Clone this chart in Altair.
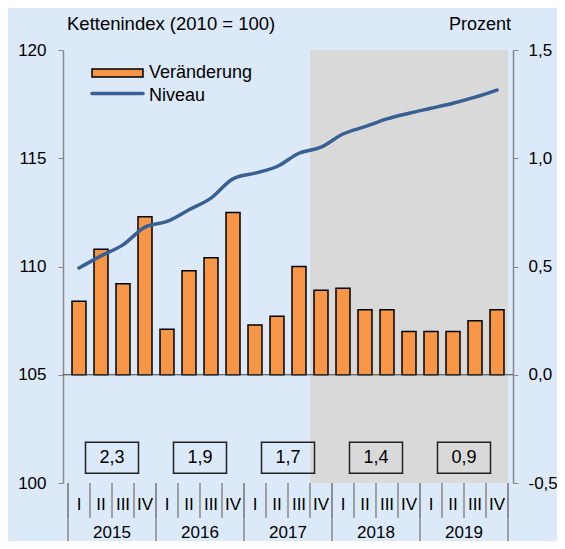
import altair as alt
import pandas as pd

# ---- data -------------------------------------------------------------
years = ["2015", "2016", "2017", "2018", "2019"]
quarters = ["I", "II", "III", "IV"]
veraenderung = [0.34, 0.58, 0.42, 0.73,
                0.21, 0.48, 0.54, 0.75,
                0.23, 0.27, 0.50, 0.39,
                0.40, 0.30, 0.30, 0.20,
                0.20, 0.20, 0.25, 0.30]
niveau = [109.93, 110.49, 111.00, 111.82,
          112.08, 112.62, 113.16, 114.05,
          114.31, 114.62, 115.23, 115.51,
          116.12, 116.46, 116.82, 117.08,
          117.31, 117.54, 117.82, 118.15]
jahresraten = ["2,3", "1,9", "1,7", "1,4", "0,9"]
prognose_ab = "2017 IV"  # shaded projection period starts here
box_level = 101.17       # vertical placement of the annual-rate boxes (left scale)

# ---- derived tables ---------------------------------------------------
rows = []
for yi, y in enumerate(years):
    for qi, q in enumerate(quarters):
        i = yi * 4 + qi
        rows.append({"idx": i, "pos": i + 0.5, "quarter": q, "year": y,
                     "label": f"{y} {q}",
                     "veraenderung": veraenderung[i], "niveau": niveau[i]})
df = pd.DataFrame(rows)

ydf = pd.DataFrame({"year": years,
                    "pos": [i * 4 + 2 for i in range(len(years))],
                    "rate": jahresraten,
                    "level": [box_level] * len(years)})

start = int(df.loc[df["label"] == prognose_ab, "idx"].iloc[0])
shade_df = pd.DataFrame({"x0": [start], "x1": [len(df)], "y0": [-0.5], "y1": [1.5]})
qsep = pd.DataFrame({"b": list(range(len(df) + 1))})
ysep = pd.DataFrame({"b": list(range(0, len(df) + 1, 4))})

# ---- style ------------------------------------------------------------
W, H = 450, 433
BG = "#DCE9F8"
ORANGE = "#F79646"
BLUE = "#386094"
GREY = "#888888"
FONT = "Liberation Sans"

xs = alt.Scale(domain=[0, 20], nice=False, zero=False)
yR = alt.Scale(domain=[-0.5, 1.5], nice=False, zero=False)
yL = alt.Scale(domain=[100, 120], nice=False, zero=False)

base = alt.Chart(df)

right_axis = alt.Axis(orient="right", values=[-0.5, 0, 0.5, 1.0, 1.5],
                      labelExpr="replace(replace(format(datum.value,'.1f'),'.',','),'\u2212','-')",
                      domainColor=GREY, tickColor=GREY, tickSize=5, labelPadding=10,
                      labelFontSize=17, labelColor="black", labelFont=FONT,
                      grid=False, title=None, domainWidth=1.5)
left_axis = alt.Axis(orient="left", values=[100, 105, 110, 115, 120],
                     domainColor=GREY, tickColor=GREY, tickSize=5, labelPadding=12,
                     labelFontSize=17, labelColor="black", labelFont=FONT,
                     grid=False, title=None, domainWidth=1.5)
x_axis = alt.Axis(values=list(range(21)), labels=False, tickSize=35, tickColor=GREY,
                  domainColor=GREY, tickWidth=1.5, domainWidth=1.5, grid=False, title=None)

shade = alt.Chart(shade_df).mark_rect(color="#D9D9D9").encode(
    x=alt.X("x0:Q", scale=xs, axis=x_axis), x2="x1:Q",
    y=alt.Y("y0:Q", scale=yR, axis=right_axis), y2="y1:Q")

bars = base.mark_bar(color=ORANGE, stroke="black", strokeWidth=1.5, size=14,
                     orient="vertical").encode(
    x=alt.X("pos:Q", scale=xs, axis=None),
    y=alt.Y("veraenderung:Q", scale=yR, axis=right_axis),
    y2=alt.datum(0))

zero_rule = alt.Chart(pd.DataFrame({"z": [0]})).mark_rule(color="#404040", strokeWidth=1.2).encode(
    y=alt.Y("z:Q", scale=yR, axis=right_axis),
    x=alt.value(0), x2=alt.value(W))

groupR = alt.layer(shade, bars, zero_rule)

line = base.mark_line(color=BLUE, strokeWidth=3.5, interpolate="monotone", strokeCap="round").encode(
    x=alt.X("pos:Q", scale=xs, axis=None),
    y=alt.Y("niveau:Q", scale=yL, axis=left_axis))

boxes = alt.Chart(ydf).mark_point(shape="M-1,-0.585H1V0.585H-1Z", size=2809, filled=False,
                                  stroke="#222222", strokeWidth=1.5, opacity=1).encode(
    x=alt.X("pos:Q", scale=xs, axis=None),
    y=alt.Y("level:Q", scale=yL, axis=left_axis))

box_text = alt.Chart(ydf).mark_text(fontSize=18, font=FONT, color="black", baseline="middle").encode(
    x=alt.X("pos:Q", scale=xs, axis=None),
    y=alt.Y("level:Q", scale=yL, axis=left_axis),
    text="rate:N")

groupL = alt.layer(line, boxes, box_text)

# bottom category axis (two levels)
qsep_rules = alt.Chart(qsep).mark_rule(color=GREY, strokeWidth=1.5).encode(
    x=alt.X("b:Q", scale=xs, axis=None), y=alt.value(H), y2=alt.value(H + 35))
ysep_rules = alt.Chart(ysep).mark_rule(color=GREY, strokeWidth=1.5).encode(
    x=alt.X("b:Q", scale=xs, axis=None), y=alt.value(H), y2=alt.value(H + 70))
q_labels = base.mark_text(fontSize=17, font=FONT, color="black", baseline="middle").encode(
    x=alt.X("pos:Q", scale=xs, axis=None), y=alt.value(H + 22), text="quarter:N")
y_labels = alt.Chart(ydf).mark_text(fontSize=17, font=FONT, color="black", baseline="middle").encode(
    x=alt.X("pos:Q", scale=xs, axis=None), y=alt.value(H + 50), text="year:N")

# titles
one = pd.DataFrame({"t": ["Kettenindex (2010 = 100)"], "r": ["Prozent"]})
t_left = alt.Chart(one).mark_text(fontSize=18.5, font=FONT, color="black", align="left",
                                  baseline="alphabetic").encode(
    x=alt.value(4), y=alt.value(-20), text="t:N")
t_right = alt.Chart(one).mark_text(fontSize=18, font=FONT, color="black", align="right",
                                   baseline="alphabetic").encode(
    x=alt.value(W - 2), y=alt.value(-20), text="r:N")

# legend
leg = pd.DataFrame({"a": ["Veränderung"], "b": ["Niveau"]})
leg_rect = alt.Chart(leg).mark_rect(color=ORANGE, stroke="black", strokeWidth=1.5).encode(
    x=alt.value(29), x2=alt.value(80), y=alt.value(19), y2=alt.value(27))
leg_line = alt.Chart(leg).mark_rule(color=BLUE, strokeWidth=3.5, strokeCap="round").encode(
    x=alt.value(29), x2=alt.value(80), y=alt.value(43.5))
leg_t1 = alt.Chart(leg).mark_text(fontSize=18, font=FONT, color="black", align="left",
                                  baseline="middle").encode(
    x=alt.value(86), y=alt.value(23), text="a:N")
leg_t2 = alt.Chart(leg).mark_text(fontSize=18, font=FONT, color="black", align="left",
                                  baseline="middle").encode(
    x=alt.value(86), y=alt.value(46), text="b:N")

chart = alt.layer(
    groupR, groupL,
    qsep_rules, ysep_rules, q_labels, y_labels,
    t_left, t_right, leg_rect, leg_line, leg_t1, leg_t2
).resolve_scale(y="independent").properties(
    width=W, height=H,
    autosize=alt.AutoSizeParams(type="none"),
    padding={"left": 55, "top": 42, "right": 44, "bottom": 58},
    background=BG
).configure_view(stroke=None, fill=BG)

chart.save("out.html", embed_options={"renderer": "svg", "actions": False})
